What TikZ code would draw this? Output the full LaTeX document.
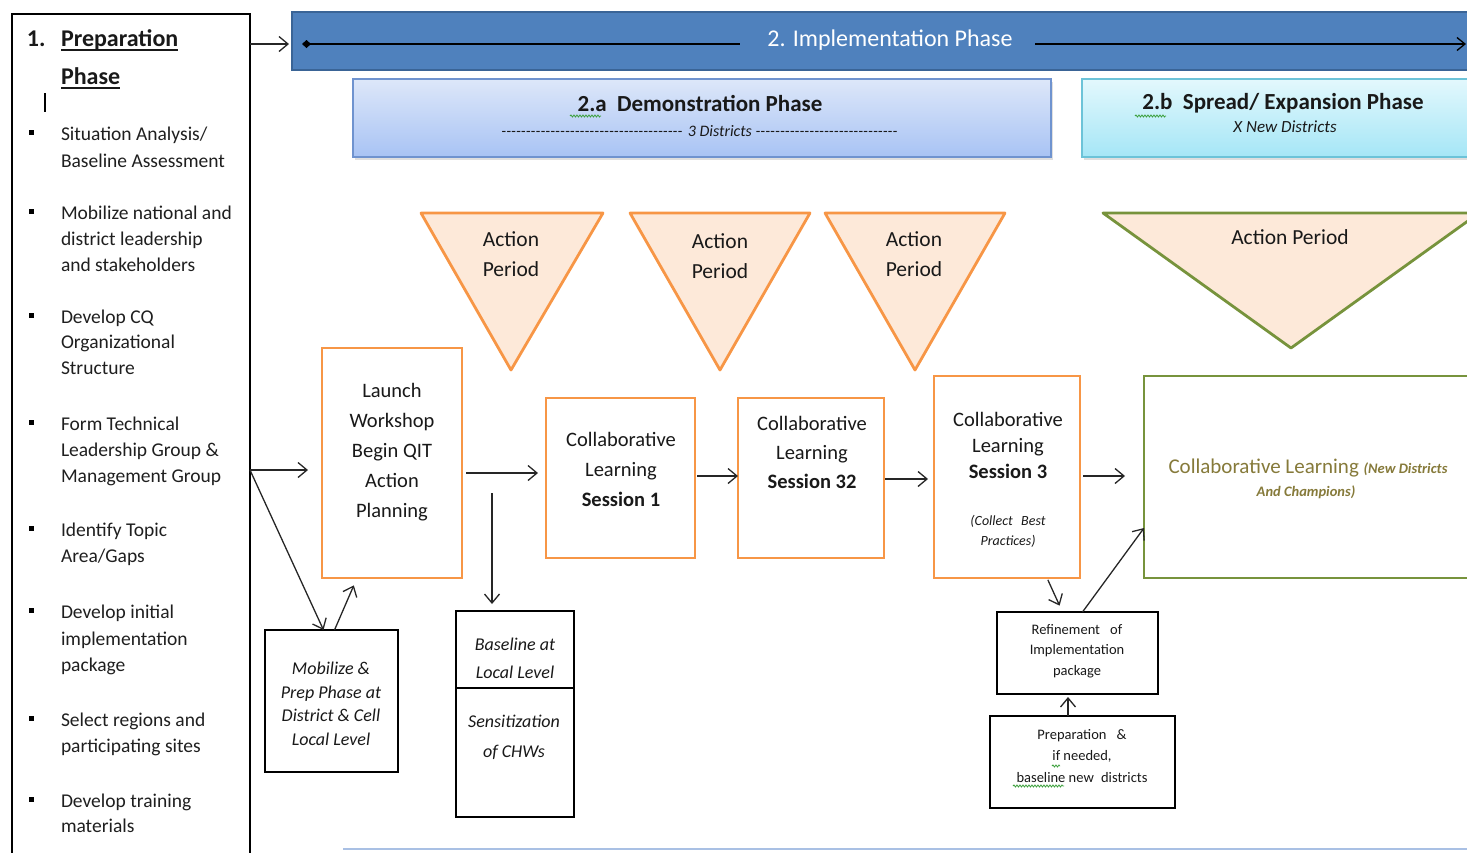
\documentclass[tikz,border=0pt]{standalone}
\usepackage{fontspec}
\setmainfont{Carlito}
\usetikzlibrary{arrows.meta,shadows,calc,decorations.pathmorphing}
\definecolor{implc}{HTML}{4F81BD}
\definecolor{impld}{HTML}{3A6496}
\definecolor{demtop}{HTML}{DDE7F9}
\definecolor{dembot}{HTML}{A8C3F4}
\definecolor{demb}{HTML}{6F93CF}
\definecolor{sprtop}{HTML}{E3F8FD}
\definecolor{sprbot}{HTML}{A5E6F6}
\definecolor{sprb}{HTML}{6CC3D8}
\definecolor{orangeb}{HTML}{F79646}
\definecolor{trifill}{HTML}{FDE9D9}
\definecolor{greenb}{HTML}{77933C}
\definecolor{olivet}{HTML}{867A3A}
\definecolor{botline}{HTML}{A9C0E4}
\definecolor{spell}{HTML}{3CA03C}
\newcommand\myfs[2]{\fontsize{#1}{#2}\selectfont}
\begin{document}
\begin{tikzpicture}[x=1pt,y=-1pt,
  every node/.style={inner sep=0pt, outer sep=0pt},
  obox/.style={draw=orangeb, line width=2.8pt, fill=white},
  bbox/.style={draw=black, line width=1.6pt, fill=white},
  gbox/.style={draw=greenb, line width=2.8pt, fill=white},
  tri/.style={draw=orangeb, fill=trifill, line width=2.8pt, line join=round},
  conn/.style={draw=black!85, line width=1.3pt, -{Straight Barb[length=9pt,width=15pt]}},
  txt/.style={align=center, text=black!90},
  li/.style={anchor=base west, font=\myfs{19.5}{26}, text=black!88},
  blt/.style={fill=black},
  spellw/.style={draw=spell, line width=0.8pt, decorate, decoration={snake, amplitude=1pt, segment length=3pt}},
]
\useasboundingbox (0,0) rectangle (1467,852);

% ---------- left preparation box ----------
\node[bbox, minimum width=238pt, minimum height=870pt] (prep) at (131,449) {};
\node[anchor=base west, font=\myfs{24}{36}\bfseries, text=black!90] (t1) at (27,46) {1.};
\node[anchor=base west, font=\myfs{24}{36}\bfseries, text=black!90] (t2) at (61,46) {Preparation};
\node[anchor=base west, font=\myfs{24}{36}\bfseries, text=black!90] (t3) at (61,84) {Phase};
\draw[line width=1.2pt, black!90] ([yshift=-4pt]t2.base west) -- ([yshift=-4pt]t2.base east);
\draw[line width=1.2pt, black!90] ([yshift=-4pt]t3.base west) -- ([yshift=-4pt]t3.base east);
\draw[line width=2.6pt] (45,93) -- (45,112);

\node[li] (l11) at (61,140) {Situation Analysis/};
\node[li] (l12) at (61,167) {Baseline Assessment};
\node[li] (l21) at (61,219) {Mobilize national and};
\node[li] (l22) at (61,245) {district leadership};
\node[li] (l23) at (61,271) {and stakeholders};
\node[li] (l31) at (61,323) {Develop CQ};
\node[li] (l32) at (61,348) {Organizational};
\node[li] (l33) at (61,374) {Structure};
\node[li] (l41) at (61,430) {Form Technical};
\node[li] (l42) at (61,456) {Leadership Group \&};
\node[li] (l43) at (61,482) {Management Group};
\node[li] (l51) at (61,536) {Identify Topic};
\node[li] (l52) at (61,562) {Area/Gaps};
\node[li] (l61) at (61,618) {Develop initial};
\node[li] (l62) at (61,645) {implementation};
\node[li] (l63) at (61,671) {package};
\node[li] (l71) at (61,726) {Select regions and};
\node[li] (l72) at (61,752) {participating sites};
\node[li] (l81) at (61,807) {Develop training};
\node[li] (l82) at (61,832) {materials};
\foreach \y in {140,219,323,430,536,618,726,807}
  \fill[blt] (29,\y-10) rectangle (34,\y-5);

% ---------- implementation bar ----------
\node[draw=impld, fill=implc, line width=1.5pt, minimum width=1188pt, minimum height=58pt] (impl) at (886,41) {};
\node[font=\myfs{24}{28}, text=white] (implt) at (890,40) {2. Implementation Phase};
\coordinate (il1) at (302,44);
\coordinate (il2) at (740,44);
\coordinate (il3) at (1035,44);
\coordinate (il4) at (1466,44);
\draw[line width=1.3pt, black, {Diamond[length=9pt,width=8pt]}-] (il1) -- (il2);
\draw[line width=1.3pt, black, -{Straight Barb[length=8pt,width=13pt]}] (il3) -- (il4);
\draw[conn, shorten >=3pt] (prep.north east |- il1) -- (impl.west |- il1);

% ---------- phase boxes ----------
\node[draw=demb, line width=1.5pt, top color=demtop, bottom color=dembot, minimum width=698pt, minimum height=78pt,
      drop shadow={shadow xshift=2pt, shadow yshift=-3pt, opacity=0.25}] (demo) at (702,118) {};
\node[font=\myfs{23}{28}\bfseries, text=black!90] (demot) at (700,103) {2.a\hspace{0.45em}Demonstration Phase};
\node[font=\myfs{16}{20}\itshape, text=black!90] (demos) at (700,131)
  {\hbox to 183pt{\leaders\hbox{-}\hfill}\ 3 Districts\ \hbox to 143pt{\leaders\hbox{-}\hfill}};
\draw[spellw] (570,116) -- (601,116);

\node[draw=sprb, line width=1.5pt, top color=sprtop, bottom color=sprbot, minimum width=398pt, minimum height=78pt,
      drop shadow={shadow xshift=2pt, shadow yshift=-3pt, opacity=0.25}] (spread) at (1281,118) {};
\node[font=\myfs{23}{28}\bfseries, text=black!90] (sprt) at (1283,103) {2.b\hspace{0.45em}Spread/ Expansion Phase};
\node[font=\myfs{17}{20}\itshape, text=black!90] (sprs) at (1285,127) {X New Districts};
\draw[spellw] (1135,116) -- (1166,116);

% ---------- action period triangles ----------
\filldraw[tri] (421,213) -- (603,213) -- (511,370) -- cycle;
\filldraw[tri] (630,213) -- (810,213) -- (720,370) -- cycle;
\filldraw[tri] (825,213) -- (1005,213) -- (915,370) -- cycle;
\filldraw[tri, draw=greenb] (1103,213) -- (1479,213) -- (1291,348) -- cycle;
\node[txt, font=\myfs{21.5}{30}] (a1) at (511,254) {Action\\Period};
\node[txt, font=\myfs{21.5}{30}] (a2) at (720,256) {Action\\Period};
\node[txt, font=\myfs{21.5}{30}] (a3) at (914,254) {Action\\Period};
\node[txt, font=\myfs{21.5}{30}] (a4) at (1290,237) {Action Period};

% ---------- main flow boxes ----------
\node[obox, minimum width=140pt, minimum height=230pt] (launch) at (392,463) {};
\node[txt, font=\myfs{20.5}{30}] (launcht) at (392,452) {Launch\\Workshop\\Begin QIT\\Action\\Planning};

\node[obox, minimum width=149pt, minimum height=160pt] (cl1) at (620.5,478) {};
\node[txt, font=\myfs{20.5}{30}] (cl1t) at (621,469) {Collaborative\\Learning\\\textbf{Session 1}};

\node[obox, minimum width=146pt, minimum height=160pt] (cl2) at (811,478) {};
\node[txt, font=\myfs{20.5}{29}] (cl2t) at (812,452) {Collaborative\\Learning\\\textbf{Session 32}};

\node[obox, minimum width=146pt, minimum height=202pt] (cl3) at (1007,477) {};
\node[txt, font=\myfs{20.5}{26}] (cl3t) at (1008,445) {Collaborative\\Learning\\\textbf{Session 3}};
\node[txt, font=\myfs{14}{20}\itshape] (cl3s) at (1008,531) {(Collect\hspace{0.6em}Best\\Practices)};

\node[gbox, minimum width=336pt, minimum height=202pt] (green) at (1312,477) {};
\node[font=\myfs{21}{26}, text=olivet] (gt1) at (1308,468) {Collaborative Learning \textbf{\textit{\myfs{14.5}{18}(New Districts}}};
\node[font=\myfs{14.5}{18}\bfseries\itshape, text=olivet] (gt2) at (1306,492) {And Champions)};

% ---------- lower boxes ----------
\node[bbox, minimum width=133pt, minimum height=142pt] (mob) at (331.5,701) {};
\node[txt, font=\myfs{18}{23.5}\itshape] (mobt) at (331,704) {Mobilize \&\\Prep Phase at\\District \& Cell\\Local Level};

\node[bbox, minimum width=118pt, minimum height=77pt] (base) at (515,649.5) {};
\node[bbox, minimum width=118pt, minimum height=129pt] (sens) at (515,752.5) {};
\node[txt, font=\myfs{18}{28}\itshape] (baset) at (515,658) {Baseline at\\Local Level};
\node[txt, font=\myfs{18}{30}\itshape] (senst) at (514,737) {Sensitization\\of CHWs};

\node[bbox, minimum width=161pt, minimum height=82pt] (ref) at (1077.5,653) {};
\node[txt, font=\myfs{14.5}{20.5}] (reft) at (1077,651) {Refinement\hspace{0.7em}of\\Implementation\\package};

\node[bbox, minimum width=185pt, minimum height=92pt] (prepd) at (1082.5,762) {};
\node[txt, font=\myfs{14.5}{21.5}] (prepdt) at (1082,756) {Preparation\hspace{0.7em}\&\\if needed,\\baseline new\hspace{0.5em}districts};
\draw[spellw] (1052,766) -- (1060,766);
\draw[spellw] (1013,786) -- (1064,786);

% ---------- connectors ----------
\coordinate (fork) at (250,470);
\draw[conn, shorten >=14pt] (fork) -- (launch.west |- fork);
\draw[conn] (fork) -- ([xshift=-8pt]mob.north);
\draw[conn, shorten >=8pt] ([xshift=3pt]mob.north) -- ([xshift=-35pt]launch.south);
\draw[conn, shorten <=4pt, shorten >=8pt] (launch.east |- 0,473) -- (cl1.west |- 0,473);
\coordinate (bdrop) at (492,493);
\draw[conn, shorten >=7pt] (bdrop) -- (base.north -| bdrop);
\draw[conn, shorten <=2pt] (cl1.east |- 0,476) -- (cl2.west |- 0,476);
\draw[conn, shorten <=1pt, shorten >=6pt] (cl2.east |- 0,479) -- (cl3.west |- 0,479);
\draw[conn, shorten <=3pt, shorten >=19pt] (cl3.east |- 0,476) -- (green.west |- 0,476);
\draw[conn, shorten <=2pt, shorten >=7pt] ([xshift=40pt]cl3.south) -- ([xshift=-15pt]ref.north);
\draw[conn] ([xshift=5pt]ref.north) -- (green.west |- 0,528);
\draw[conn, shorten >=3pt] ([xshift=-14.5pt]prepd.north) -- ([xshift=-9.5pt]ref.south);

% ---------- bottom line ----------
\draw[botline, line width=2pt] (343,849) -- (1467,849);
\end{tikzpicture}
\end{document}
